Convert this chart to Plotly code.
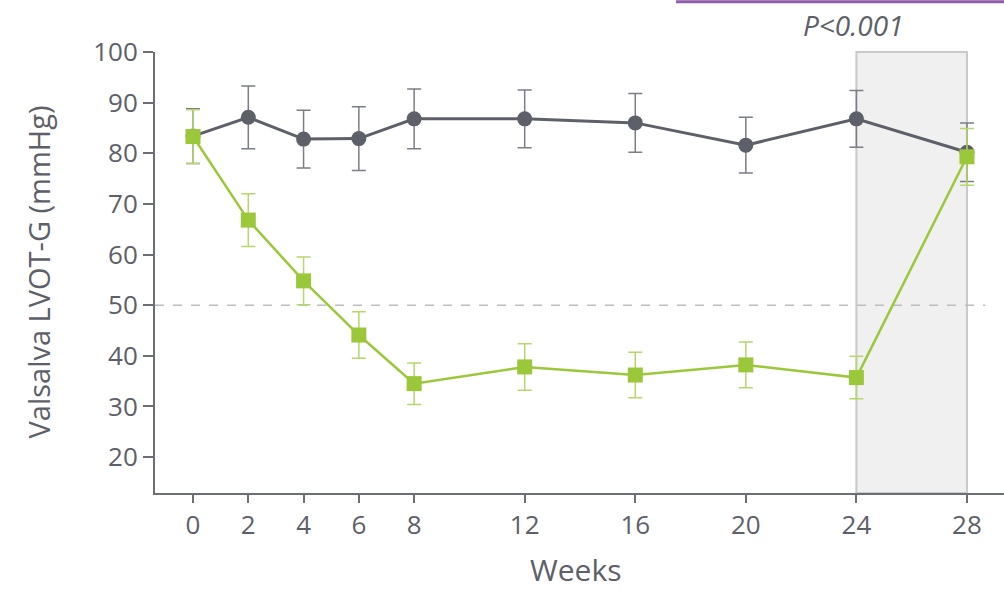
import plotly.graph_objects as go

# Study weeks
weeks = [0, 2, 4, 6, 8, 12, 16, 20, 24, 28]

# Placebo group: mean Valsalva LVOT gradient and SD
placebo_mean = [83.4, 87.1, 82.8, 82.9, 86.8, 86.8, 86.0, 81.6, 86.8, 80.2]
placebo_err = [5.4, 6.2, 5.7, 6.3, 5.9, 5.7, 5.8, 5.5, 5.6, 5.8]

# Treatment group: mean Valsalva LVOT gradient and SD
treat_mean = [83.3, 66.8, 54.8, 44.1, 34.5, 37.8, 36.2, 38.2, 35.7, 79.3]
treat_err = [5.3, 5.2, 4.7, 4.6, 4.1, 4.6, 4.5, 4.5, 4.2, 5.6]

y_ticks = [20, 30, 40, 50, 60, 70, 80, 90, 100]
threshold = 50
washout = [24, 28]

GRAY = "#5d6068"
GREEN = "#9bc83a"
TEXT = "#5d6068"
FONT = "Open Sans"

fig = go.Figure()

fig.add_trace(go.Scatter(
    x=weeks, y=placebo_mean, mode="lines+markers",
    line=dict(color=GRAY, width=3),
    marker=dict(symbol="circle", size=15, color=GRAY),
    error_y=dict(type="data", array=placebo_err, visible=True,
                 color="#7b7e86", thickness=1.5, width=7),
    showlegend=False,
))

fig.add_trace(go.Scatter(
    x=weeks, y=treat_mean, mode="lines+markers",
    line=dict(color=GREEN, width=2.5),
    marker=dict(symbol="square", size=15, color=GREEN),
    error_y=dict(type="data", array=treat_err, visible=True,
                 color="#b5d76c", thickness=1.5, width=7),
    showlegend=False,
))

# Shaded washout window
fig.add_shape(type="rect", xref="x", yref="paper",
              x0=washout[0], x1=washout[1], y0=0, y1=1,
              fillcolor="#f0f0f0", line=dict(color="#c9c9c9", width=2),
              layer="below")

# Threshold line
fig.add_shape(type="line", xref="paper", yref="y",
              x0=0, x1=0.978, y0=threshold, y1=threshold,
              line=dict(color="#bdbdbd", width=1.5, dash="dash"),
              layer="below")

# Bracket line above the significance label
fig.add_shape(type="line", xref="paper", yref="paper",
              x0=0.6137, x1=1.0, y0=1.114, y1=1.114,
              line=dict(color="#8e5ca8", width=3))

fig.add_annotation(text="<i>P<0.001</i>", xref="x", yref="paper",
                   x=23.9, y=1.061, yanchor="middle", xanchor="center",
                   showarrow=False,
                   font=dict(family=FONT, size=28, color=TEXT))

# Axis titles
fig.add_annotation(text="Valsalva LVOT-G (mmHg)", xref="paper", yref="paper",
                   x=-0.1378, y=0.5, textangle=-90,
                   xanchor="center", yanchor="middle", showarrow=False,
                   font=dict(family=FONT, size=29, color=TEXT))
fig.add_annotation(text="Weeks", xref="paper", yref="paper",
                   x=0.495, y=-0.1746, xanchor="center", yanchor="middle",
                   showarrow=False, borderpad=0,
                   font=dict(family=FONT, size=30, color=TEXT))

fig.update_layout(
    width=1004, height=593,
    margin=dict(l=155, r=0, t=52, b=100),
    paper_bgcolor="white", plot_bgcolor="white",
    font=dict(family=FONT, color=TEXT),
    xaxis=dict(
        range=[-1.375, 29.34], tickvals=weeks, ticktext=[str(w) for w in weeks],
        showline=True, linecolor="#6b6e75", linewidth=2,
        ticks="outside", ticklen=8, tickwidth=2, tickcolor="#6b6e75",
        showgrid=False, zeroline=False,
        tickfont=dict(size=26, color=TEXT),
    ),
    yaxis=dict(
        range=[12.9, 100], tickvals=y_ticks,
        showline=True, linecolor="#6b6e75", linewidth=2,
        ticks="outside", ticklen=10, tickwidth=2, tickcolor="#6b6e75",
        showgrid=False, zeroline=False,
        tickfont=dict(size=26, color=TEXT),
    ),
)

fig.write_html("out.html")
